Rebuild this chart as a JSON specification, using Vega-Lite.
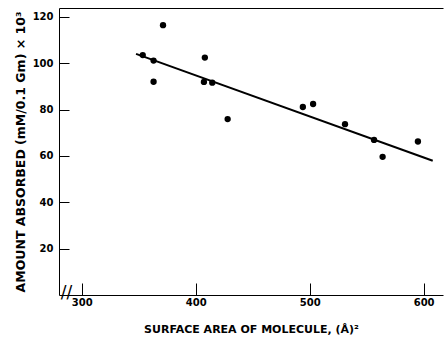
{
  "$schema": "https://vega.github.io/schema/vega-lite/v6.json",
  "width": 384,
  "height": 287,
  "autosize": "none",
  "padding": {"left": 59, "top": 8, "right": 1, "bottom": 42},
  "background": "white",
  "config": {
    "view": {"stroke": null},
    "font": "DejaVu Sans",
    "axis": {
      "domainColor": "black",
      "tickColor": "black",
      "grid": false,
      "labelColor": "black",
      "titleColor": "black",
      "labelFont": "DejaVu Sans",
      "labelFontWeight": "bold",
      "labelFontSize": 10,
      "titleFont": "DejaVu Sans",
      "titleFontWeight": "bold",
      "titleFontSize": 11
    }
  },
  "datasets": {
    "points": [
      {"area": 353.5, "absorbed": 103.5},
      {"area": 363, "absorbed": 101.1},
      {"area": 363, "absorbed": 92},
      {"area": 371.3, "absorbed": 116.4},
      {"area": 408, "absorbed": 102.4},
      {"area": 407.2, "absorbed": 91.9},
      {"area": 414.5, "absorbed": 91.6},
      {"area": 428, "absorbed": 75.9},
      {"area": 494, "absorbed": 81.1},
      {"area": 503, "absorbed": 82.4},
      {"area": 531, "absorbed": 73.7},
      {"area": 556.5, "absorbed": 66.9},
      {"area": 564, "absorbed": 59.6},
      {"area": 595, "absorbed": 66.2}
    ],
    "fit": [
      {"area": 347.6, "absorbed": 104},
      {"area": 608, "absorbed": 57.9}
    ]
  },
  "layer": [
    {
      "data": {"name": "points"},
      "mark": {"type": "circle", "color": "black", "opacity": 1, "size": 40},
      "encoding": {
        "x": {
          "field": "area", "type": "quantitative",
          "scale": {"domain": [280, 617], "nice": false, "zero": false},
          "axis": {
            "orient": "bottom",
            "values": [300, 400, 500, 600],
            "tickSize": -12,
            "labelPadding": 14,
            "title": "SURFACE AREA OF MOLECULE, (Å)²",
            "titlePadding": 16
          }
        },
        "y": {
          "field": "absorbed", "type": "quantitative",
          "scale": {"domain": [0, 123.8], "nice": false, "zero": false},
          "axis": {
            "values": [20, 40, 60, 80, 100, 120],
            "tickSize": -10,
            "labelPadding": 16,
            "title": "AMOUNT ABSORBED (mM/0.1 Gm) × 10³",
            "titleFontSize": 12.5,
            "titlePadding": 5
          }
        }
      }
    },
    {
      "data": {"name": "fit"},
      "mark": {"type": "line", "color": "black", "strokeWidth": 2},
      "encoding": {
        "x": {
          "field": "area", "type": "quantitative",
          "axis": {"orient": "top", "labels": false, "ticks": false, "title": null, "domain": true}
        },
        "y": {"field": "absorbed", "type": "quantitative"}
      }
    },
    {
      "data": {"values": [{"label": "//"}]},
      "mark": {"type": "text", "fontSize": 17, "font": "DejaVu Sans", "color": "black", "baseline": "middle", "align": "center"},
      "encoding": {
        "x": {"datum": 286.5, "axis": null},
        "y": {"datum": 1},
        "text": {"field": "label"}
      }
    }
  ],
  "resolve": {"axis": {"x": "independent"}}
}
